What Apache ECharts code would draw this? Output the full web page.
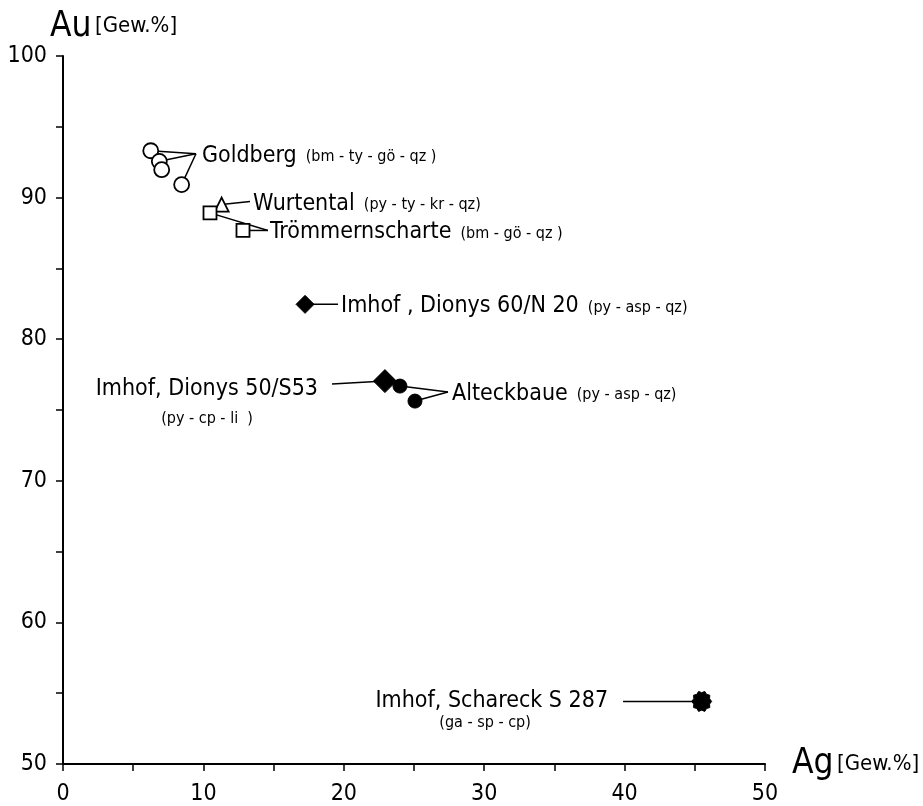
<!DOCTYPE html>
<html>
<head>
<meta charset="utf-8">
<script src="https://cdn.jsdelivr.net/npm/echarts@6/dist/echarts.min.js"></script>
<style>
  html, body { margin: 0; padding: 0; background: #fff; }
  #chart { width: 923px; height: 806px; }
</style>
</head>
<body>
<div id="chart"></div>
<script>
// Messpunkte [Ag, Au] in Gew.%
const goldberg = [[6.25, 93.31], [6.86, 92.56], [7.03, 91.97], [8.45, 90.92]]
const wurtental = [[11.3, 89.51]]
const troemmern = [[10.47, 88.92], [12.82, 87.68]]
const dionys = [[17.24, 82.46], [22.93, 77.04]]
const alteckbaue = [[24.0, 76.69], [25.07, 75.63]]
const schareck = [[45.49, 54.42]]

// Beschriftungen
const noteNames = ['Goldberg', 'Wurtental', 'Trömmernscharte', 'Imhof , Dionys 60/N 20',
  'Imhof, Dionys 50/S53', 'Alteckbaue', 'Imhof, Schareck S 287']
const noteMinerals = ['(bm - ty - gö - qz )', '(py - ty - kr - qz)', '(bm - gö - qz )',
  '(py - asp - qz)', '(py - cp - li  )', '(py - asp - qz)', '(ga - sp - cp)']
const noteLinks = [
  [goldberg[0], goldberg[1], goldberg[3]],
  [wurtental[0]],
  [troemmern[0], troemmern[1]],
  [dionys[0]],
  [dionys[1]],
  [alteckbaue[0], alteckbaue[1]],
  [schareck[0]]
]
// Ende der Hinweislinie (in Achsenwerten)
const noteAnchors = [[9.47, 93.1], [13.32, 89.72], [14.6, 87.68], [19.59, 82.46],
  [19.16, 76.83], [27.42, 76.27], [39.89, 54.42]]

const FONT = '"DejaVu Sans Condensed", "DejaVu Sans", sans-serif'

// Lage der Texte relativ zum Linienende (Pixel)
const noteLayout = [
  { side: 'right', dx: 6 },
  { side: 'right', dx: 3 },
  { side: 'right', dx: 2 },
  { side: 'right', dx: 3 },
  { side: 'left', dx: -14, dy: 5, subDx: -125, subDy: 35 },
  { side: 'right', dx: 4 },
  { side: 'left', dx: -15, dy: 0, subDx: -138, subDy: 21 }
]

// Zahnrad-Symbol
function gearPath() {
  let pts = []
  for (let i = 0; i < 20; i++) {
    let a = i / 20 * Math.PI * 2
    let r = i % 2 === 0 ? 10 : 8.3
    pts.push((10 + r * Math.cos(a)).toFixed(2) + ' ' + (10 + r * Math.sin(a)).toFixed(2))
  }
  return 'path://M' + pts.join(' L') + ' Z'
}

const axisText = { color: '#000', fontFamily: FONT, fontSize: 23 }

const nameRich = {
  a: { fontSize: 35, fontFamily: FONT, color: '#000' },
  b: { fontSize: 22, fontFamily: FONT, color: '#000' }
}

const openStyle = { color: '#fff', borderColor: '#000', borderWidth: 1.8, opacity: 1 }
const fillStyle = { color: '#000', borderColor: '#000', borderWidth: 1, opacity: 1 }

const chart = echarts.init(document.getElementById('chart'))
chart.setOption({
  backgroundColor: '#fff',
  animation: false,
  grid: { left: 63, right: 158, top: 56, bottom: 40, containLabel: false },
  xAxis: {
    type: 'value', min: 0, max: 50, interval: 5,
    name: '{a|Ag} {b|[Gew.%]}',
    nameLocation: 'end', nameGap: 27,
    nameTextStyle: { color: '#000', fontFamily: FONT, rich: nameRich },
    axisLine: { show: true, onZero: false, lineStyle: { color: '#000', width: 2 } },
    axisTick: { show: true, length: 7, lineStyle: { color: '#000', width: 1.5 } },
    splitLine: { show: false },
    axisLabel: Object.assign({ margin: 19, formatter: v => (v % 10 === 0 ? String(v) : '') }, axisText)
  },
  yAxis: {
    type: 'value', min: 50, max: 100, interval: 5,
    name: '{a|Au} {b|[Gew.%]}',
    nameLocation: 'end', nameGap: 12,
    nameTextStyle: {
      color: '#000', fontFamily: FONT, align: 'left', verticalAlign: 'bottom',
      padding: [0, 0, 0, -13], rich: nameRich
    },
    axisLine: { show: true, onZero: false, lineStyle: { color: '#000', width: 2 } },
    axisTick: { show: true, length: 7, lineStyle: { color: '#000', width: 1.5 } },
    splitLine: { show: false },
    axisLabel: Object.assign({ margin: 16, formatter: v => (v % 10 === 0 ? String(v) : '') }, axisText)
  },
  series: [
    {
      type: 'custom',
      name: 'notes',
      z: 1,
      clip: false,
      silent: true,
      data: noteAnchors,
      encode: { x: 0, y: 1 },
      renderItem: (params, api) => {
        const i = params.dataIndex
        const end = api.coord([api.value(0), api.value(1)])
        const lay = noteLayout[i]
        const children = noteLinks[i].map(p => {
          const s = api.coord(p)
          return {
            type: 'line',
            shape: { x1: s[0], y1: s[1], x2: end[0], y2: end[1] },
            style: { stroke: '#000', lineWidth: 1.5 }
          }
        })
        if (lay.side === 'right') {
          children.push({
            type: 'text',
            x: end[0] + lay.dx, y: end[1] + 2,
            style: {
              text: '{m|' + noteNames[i] + '}{s|' + noteMinerals[i] + '}',
              align: 'left', verticalAlign: 'middle', fill: '#000',
              rich: {
                m: { fontSize: 23, fontFamily: FONT, fill: '#000' },
                s: { fontSize: 16, fontFamily: FONT, fill: '#000', padding: [2, 0, 0, 9] }
              }
            }
          })
        } else {
          children.push({
            type: 'text',
            x: end[0] + lay.dx, y: end[1] + lay.dy,
            style: {
              text: noteNames[i], align: 'right', verticalAlign: 'middle',
              fill: '#000', fontSize: 23, fontFamily: FONT
            }
          })
          children.push({
            type: 'text',
            x: end[0] + lay.subDx, y: end[1] + lay.subDy,
            style: {
              text: noteMinerals[i], align: 'center', verticalAlign: 'middle',
              fill: '#000', fontSize: 16, fontFamily: FONT
            }
          })
        }
        return { type: 'group', children: children }
      }
    },
    { type: 'scatter', name: 'Goldberg', z: 3, data: goldberg, symbol: 'circle', symbolSize: 15, itemStyle: openStyle },
    { type: 'scatter', name: 'Wurtental', z: 3, data: wurtental, symbol: 'triangle', symbolSize: 14, itemStyle: openStyle },
    { type: 'scatter', name: 'Trömmernscharte', z: 3, data: troemmern, symbol: 'rect', symbolSize: 13, itemStyle: openStyle },
    { type: 'scatter', name: 'Imhof Dionys', z: 3, data: dionys, symbol: 'diamond',
      symbolSize: (v, p) => (p.dataIndex === 1 ? 23 : 18), itemStyle: fillStyle },
    { type: 'scatter', name: 'Alteckbaue', z: 3, data: alteckbaue, symbol: 'circle', symbolSize: 14, itemStyle: fillStyle },
    { type: 'scatter', name: 'Schareck', z: 3, data: schareck, symbol: gearPath(), symbolSize: 20, itemStyle: fillStyle }
  ]
})

window.addEventListener('resize', () => {
  chart.resize()
})
</script>
</body>
</html>
